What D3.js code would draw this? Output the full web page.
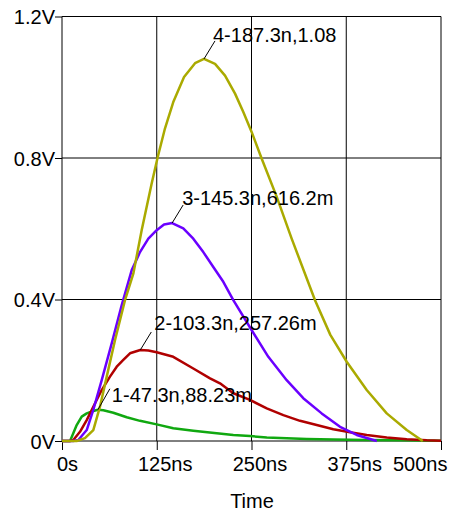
<!DOCTYPE html>
<html>
<head>
<meta charset="utf-8">
<script src="https://cdn.jsdelivr.net/npm/d3@7"></script>
<style>
  body { margin: 0; background: #fff; }
  text { font-family: "Liberation Sans", Arial, sans-serif; font-size: 20px; fill: #000; }
</style>
</head>
<body>
<svg id="chart" width="449" height="513"></svg>
<script>
// time in ns, values in V
const xTicks = [0, 125, 250, 375, 500],
    xTickLabels = ['0s', '125ns', '250ns', '375ns', '500ns'],
    yTicks = [0, 0.4, 0.8, 1.2],
    yTickLabels = ['0V', '0.4V', '0.8V', '1.2V'];

const wave1 = [[0, 0], [10.6, 0], [14.9, 0.022], [19.4, 0.045], [26.0, 0.069], [32.6, 0.078], [41.3, 0.085],
    [47.3, 0.0882], [54.5, 0.087], [67.7, 0.080], [85.4, 0.067], [102.9, 0.057], [124.9, 0.047], [146.8, 0.036],
    [173.2, 0.029], [204.1, 0.022], [226.0, 0.017], [248.0, 0.014], [270.1, 0.010], [296.4, 0.008],
    [322.8, 0.006], [357.9, 0.004], [402.0, 0.003], [445.9, 0.002], [500, 0.001]];

const wave2 = [[0, 0], [10.6, 0], [14.9, 0.003], [23.7, 0.026], [32.6, 0.059], [41.3, 0.097], [52.4, 0.144],
    [63.3, 0.182], [72.2, 0.210], [80.9, 0.229], [89.7, 0.248], [103.3, 0.2573], [113.9, 0.256], [124.9, 0.251],
    [146.8, 0.238], [173.2, 0.205], [195.3, 0.177], [208.4, 0.163], [226.0, 0.135], [248.0, 0.116],
    [270.1, 0.092], [292.0, 0.073], [314.0, 0.057], [336.0, 0.045], [357.9, 0.033], [380.0, 0.025],
    [402.0, 0.017], [428.4, 0.010], [454.8, 0.005], [481.2, 0.002], [500, 0.001]];

const wave3 = [[0, 0], [14.9, 0], [21.5, 0.003], [32.6, 0.031], [41.3, 0.088], [52.4, 0.172], [65.6, 0.276],
    [78.8, 0.384], [92.0, 0.483], [102.9, 0.534], [113.9, 0.572], [124.9, 0.596], [134.6, 0.612],
    [145.3, 0.6162], [160.0, 0.601], [173.2, 0.572], [186.4, 0.534], [199.6, 0.492], [212.8, 0.450],
    [226.0, 0.398], [250.3, 0.313], [272.2, 0.238], [296.4, 0.172], [318.3, 0.121], [342.6, 0.078],
    [366.8, 0.040], [388.8, 0.017], [415.2, 0]];

const wave4 = [[0, 0], [19.4, 0], [30.3, 0.008], [41.3, 0.031], [50.1, 0.097], [59.0, 0.182], [69.9, 0.285],
    [83.1, 0.398], [94.1, 0.473], [105.1, 0.596], [118.3, 0.728], [126.3, 0.803], [135.9, 0.884],
    [146.8, 0.958], [161.0, 1.029], [175.5, 1.068], [187.3, 1.08], [201.9, 1.066], [215.1, 1.033],
    [228.3, 0.982], [239.2, 0.930], [250.3, 0.873], [263.5, 0.798], [283.3, 0.690], [303.0, 0.572],
    [333.8, 0.398], [354.0, 0.300], [375.6, 0.224], [402.0, 0.144], [428.4, 0.078], [454.8, 0.031], [475.9, 0]];

const waves = [wave1, wave2, wave3, wave4],
    waveColors = ['#10a810', '#b00000', '#6a00ff', '#aaaa00'];

const peakTimes = [47.3, 103.3, 145.3, 187.3],
    peakValues = [0.08823, 0.25726, 0.6162, 1.08],
    peakLabels = ['1-47.3n,88.23m', '2-103.3n,257.26m', '3-145.3n,616.2m', '4-187.3n,1.08'];

// leader end and label offsets from each peak
const leaderOffsets = [[12, -21], [11, -18], [11, -18], [11, -18]],
    labelOffsets = [[14, -8], [14, -20], [10, -18], [9, -17]];

const margin = { top: 16.5, right: 8, bottom: 72, left: 62 },
    width = 449, height = 513;

const svg = d3.select('#chart');

const x = d3.scaleLinear().domain([0, 500]).range([margin.left, width - margin.right]),
    y = d3.scaleLinear().domain([0, 1.2]).range([height - margin.bottom, margin.top]);

// grid
svg.append('g')
    .selectAll('line')
    .data(xTicks)
    .join('line')
    .attr('x1', d => x(d)).attr('x2', d => x(d))
    .attr('y1', y(1.2)).attr('y2', y(0))
    .attr('stroke', '#000');

svg.append('g')
    .selectAll('line')
    .data(yTicks)
    .join('line')
    .attr('x1', x(0)).attr('x2', x(500))
    .attr('y1', d => y(d)).attr('y2', d => y(d))
    .attr('stroke', '#000');

// axes
const xAxis = svg.append('g')
    .attr('transform', `translate(0,${y(0)})`)
    .call(d3.axisBottom(x).tickValues(xTicks).tickFormat((d, i) => xTickLabels[i]).tickSize(9).tickPadding(7));

const yAxis = svg.append('g')
    .attr('transform', `translate(${x(0)},0)`)
    .call(d3.axisLeft(y).tickValues(yTicks).tickFormat((d, i) => yTickLabels[i]).tickSize(7).tickPadding(0));

[xAxis, yAxis].forEach(g => {
    g.select('.domain').remove();
    g.selectAll('.tick line').attr('stroke', '#000');
    g.selectAll('text').attr('font-family', null).attr('font-size', null).attr('fill', '#000');
});

// labels sit a little right of their grid line, the last one is kept inside the chart
const last = xTicks.length - 1;
xAxis.selectAll('.tick text')
    .attr('dy', '0.71em')
    .attr('dx', (d, i) => i === 0 ? 5 : i === last ? 6 : 8)
    .attr('text-anchor', (d, i) => i === last ? 'end' : 'middle');

yAxis.selectAll('.tick text').attr('dy', '0.36em');

svg.append('text')
    .attr('x', 252)
    .attr('y', 508)
    .attr('text-anchor', 'middle')
    .text('Time');

// waveforms
const line = d3.line()
    .x(d => x(d[0]))
    .y(d => y(d[1]));

svg.append('g')
    .selectAll('path')
    .data(waves)
    .join('path')
    .attr('d', line)
    .attr('fill', 'none')
    .attr('stroke', (d, i) => waveColors[i])
    .attr('stroke-width', 2.5)
    .attr('stroke-linejoin', 'round');

// peak annotations
const notes = svg.append('g')
    .selectAll('g')
    .data(peakLabels)
    .join('g')
    .attr('transform', (d, i) => `translate(${x(peakTimes[i])},${y(peakValues[i])})`);

notes.append('line')
    .attr('x1', 0).attr('y1', 0)
    .attr('x2', (d, i) => leaderOffsets[i][0])
    .attr('y2', (d, i) => leaderOffsets[i][1])
    .attr('stroke', '#000');

notes.append('text')
    .attr('x', (d, i) => labelOffsets[i][0])
    .attr('y', (d, i) => labelOffsets[i][1])
    .text(d => d);
</script>
</body>
</html>
